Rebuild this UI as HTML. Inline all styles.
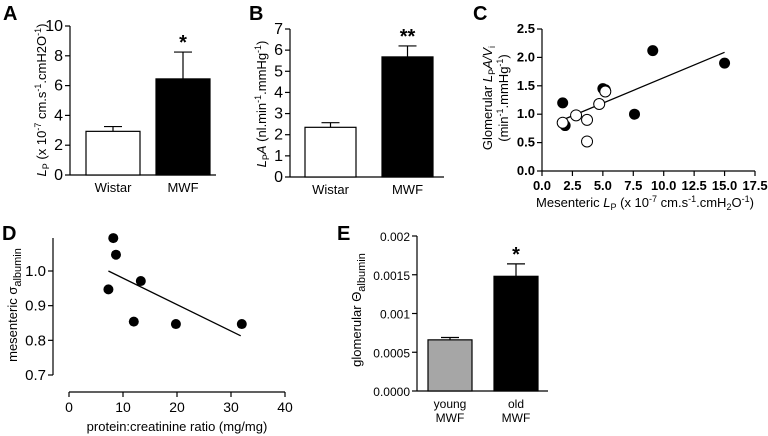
<!DOCTYPE html>
<html><head><meta charset="utf-8"><style>
body{margin:0;background:#fff}
svg{display:block;font-family:"Liberation Sans",Arial,sans-serif}
</style></head><body>
<svg id="s" width="768" height="436" viewBox="0 0 768 436">
<g font-weight="bold" font-size="20">
<text x="3" y="20">A</text>
<text x="249" y="20">B</text>
<text x="473" y="20">C</text>
<text x="2" y="240">D</text>
<text x="337" y="240">E</text>
</g>
<text transform="translate(46,100) rotate(-90)" text-anchor="middle" font-size="13"><tspan font-style="italic">L</tspan><tspan font-size="9" dy="3">P</tspan><tspan dy="-3"> (x 10</tspan><tspan font-size="9" dy="-5">-7</tspan><tspan dy="5"> cm.s</tspan><tspan font-size="9" dy="-5">-1</tspan><tspan dy="5">.cmH2O</tspan><tspan font-size="9" dy="-5">-1</tspan><tspan dy="5">)</tspan></text>
<text transform="translate(266,104) rotate(-90)" text-anchor="middle" font-size="13"><tspan font-style="italic">L</tspan><tspan font-size="9" dy="3">P</tspan><tspan dy="-3" font-style="italic">A</tspan><tspan> (nl.min</tspan><tspan font-size="9" dy="-5">-1</tspan><tspan dy="5">.mmHg</tspan><tspan font-size="9" dy="-5">-1</tspan><tspan dy="5">)</tspan></text>
<text transform="translate(492,98) rotate(-90)" text-anchor="middle" font-size="13">Glomerular <tspan font-style="italic">L</tspan><tspan font-size="9" dy="3">P</tspan><tspan dy="-3" font-style="italic">A/V</tspan><tspan font-size="9" dy="3">i</tspan></text>
<text transform="translate(508,98) rotate(-90)" text-anchor="middle" font-size="13">(min<tspan font-size="9" dy="-5">-1</tspan><tspan dy="5">.mmHg</tspan><tspan font-size="9" dy="-5">-1</tspan><tspan dy="5">)</tspan></text>
<text x="645" y="207" text-anchor="middle" font-size="13">Mesenteric <tspan font-style="italic">L</tspan><tspan font-size="9" dy="3">P</tspan><tspan dy="-3"> (x 10</tspan><tspan font-size="9" dy="-5">-7</tspan><tspan dy="5"> cm.s</tspan><tspan font-size="9" dy="-5">-1</tspan><tspan dy="5">.cmH</tspan><tspan font-size="9" dy="3">2</tspan><tspan dy="-3">O</tspan><tspan font-size="9" dy="-5">-1</tspan><tspan dy="5">)</tspan></text>
<text transform="translate(17,305) rotate(-90)" text-anchor="middle" font-size="13">mesenteric  σ<tspan font-size="11" dy="4">albumin</tspan></text>
<text x="177" y="431" text-anchor="middle" font-size="13">protein:creatinine ratio (mg/mg)</text>
<text transform="translate(361,310) rotate(-90)" text-anchor="middle" font-size="13">glomerular Θ<tspan font-size="11" dy="4">albumin</tspan></text>
<g id="g"></g>
</svg>
<script>
const aCats=["Wistar","MWF"], aVals=[2.93,6.45], aErr=[3.25,8.25], aTicks=[0,2,4,6,8,10];
const bCats=["Wistar","MWF"], bVals=[2.35,5.68], bErr=[2.57,6.2], bTicks=[0,1,2,3,4,5,6,7];
const cFilledX=[1.7,1.9,5.0,5.2,7.6,9.1,15.0], cFilledY=[1.2,0.8,1.45,1.43,1.0,2.12,1.9];
const cOpenX=[1.7,2.8,3.7,3.7,4.7,5.2], cOpenY=[0.85,0.98,0.9,0.52,1.18,1.4];
const cFitX=[1.7,15.0], cFitY=[0.9,2.09];
const cXTicks=[0,2.5,5,7.5,10,12.5,15,17.5], cYTicks=[0,0.5,1,1.5,2,2.5];
const dX=[8.2,8.7,7.3,13.3,12.0,19.8,32.0], dY=[1.095,1.047,0.947,0.971,0.854,0.847,0.847];
const dFitX=[7.3,31.8], dFitY=[1.0,0.813];
const dXTicks=[0,10,20,30,40], dYTicks=[0.7,0.8,0.9,1.0];
const eCats=[["young","MWF"],["old","MWF"]], eVals=[0.00066,0.00148], eErr=[0.00069,0.00164];
const eTicks=["0.0000","0.0005","0.001","0.0015","0.002"];
const NS="http://www.w3.org/2000/svg", G=document.getElementById("g");
function mk(t,a,p){const e=document.createElementNS(NS,t);for(const k in a)e.setAttribute(k,a[k]);(p||G).appendChild(e);return e;}
function ln(x1,y1,x2,y2,w){return mk("line",{x1,y1,x2,y2,stroke:"#000","stroke-width":w||1.2});}
function tx(x,y,s,anc,fs,fw){const e=mk("text",{x,y,"text-anchor":anc||"middle","font-size":fs||13,"font-weight":fw||"normal"});e.textContent=s;return e;}
function lin(d0,d1,r0,r1){return v=>r0+(v-d0)/(d1-d0)*(r1-r0);}

function barChart(pfx,cats,vals,errs,ticks,ax,y0,y1,tMax,xEnd,bx,bw,fills,stars,fmt){
  const ys=lin(0,tMax,y0,y1);
  let e=ln(ax,y1,ax,y0);
  e=ln(ax,y0,xEnd,y0);
  ticks.forEach(t=>{const v=parseFloat(t);ln(ax-5,ys(v),ax,ys(v));
    e=tx(ax-7,ys(v)+5,fmt?t:String(t),"end",fmt?12:16);
    });
  vals.forEach((v,i)=>{
    ln(bx[i]+bw/2,ys(v),bx[i]+bw/2,ys(errs[i]));ln(bx[i]+bw/2-9,ys(errs[i]),bx[i]+bw/2+9,ys(errs[i]));
    e=mk("rect",{x:bx[i],y:ys(v),width:bw,height:y0-ys(v),fill:fills[i],stroke:"#000","stroke-width":1.2});
    
    const c=cats[i];
    if(Array.isArray(c)){c.forEach((s,j)=>{e=tx(bx[i]+bw/2,y0+17+j*14,s,"middle",12);});}
    else{e=tx(bx[i]+bw/2,y0+17,c,"middle",13);}
    if(stars[i]){e=tx(bx[i]+bw/2,ys(errs[i])-3,stars[i],"middle",20,"bold");}
  });
}
barChart("a",aCats,aVals,aErr,aTicks,70,175,26,10,216,[86,156],54,["#fff","#000"],["","*"]);
barChart("b",bCats,bVals,bErr,bTicks,290,177,29,7,444,[305,382],51,["#fff","#000"],["","**"]);
barChart("e",eCats,eVals,eErr,eTicks,417,391,236,0.002,548,[428,494],44,["#a6a6a6","#000"],["","*"],true);

// C scatter
(function(){
  const xs=lin(0,17.5,542,755), ys=lin(0,2.5,171,29);
  let e=ln(542,171,542,29);
  e=ln(542,171,755,171);
  cYTicks.forEach(t=>{ln(537,ys(t),542,ys(t));e=tx(535,ys(t)+4,t.toFixed(1),"end",13,"bold");});
  cXTicks.forEach(t=>{ln(xs(t),171,xs(t),176);e=tx(xs(t),190,t.toFixed(1),"middle",13,"bold");});
  e=ln(xs(cFitX[0]),ys(cFitY[0]),xs(cFitX[1]),ys(cFitY[1]),1.3);
  cFilledX.forEach((x,i)=>{e=mk("circle",{cx:xs(x),cy:ys(cFilledY[i]),r:5.5,fill:"#000"});});
  cOpenX.forEach((x,i)=>{e=mk("circle",{cx:xs(x),cy:ys(cOpenY[i]),r:5.5,fill:"#fff",stroke:"#000","stroke-width":1});});
})();
// D scatter
(function(){
  const xs=lin(0,40,69,285), ys=lin(0.7,1.0,375,271);
  let e=ln(53,375,53,238);
  e=ln(69,392,285,392);
  dYTicks.forEach(t=>{ln(48,ys(t),53,ys(t));e=tx(46,ys(t)+5,t.toFixed(1),"end",15);});
  dXTicks.forEach(t=>{ln(xs(t),392,xs(t),397);e=tx(xs(t),412,String(t),"middle",14);});
  e=ln(xs(dFitX[0]),ys(dFitY[0]),xs(dFitX[1]),ys(dFitY[1]),1.3);
  dX.forEach((x,i)=>{e=mk("circle",{cx:xs(x),cy:ys(dY[i]),r:5,fill:"#000"});});
})();
</script>
</body></html>
